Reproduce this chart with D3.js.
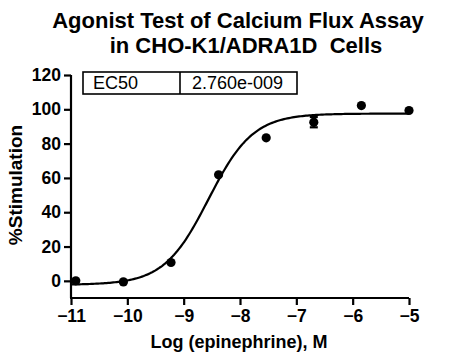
<!DOCTYPE html>
<html>
<head>
<meta charset="utf-8">
<script src="https://cdn.jsdelivr.net/npm/d3@7"></script>
<style>
  html, body { margin: 0; padding: 0; background: #fff; }
  svg { display: block; font-family: Arial, "Liberation Sans", sans-serif; }
</style>
</head>
<body>
<svg id="chart" width="451" height="359"></svg>
<script>
// ---- Data ----
const logConc = [-10.915, -10.07, -9.225, -8.38, -7.535, -6.69, -5.845, -5.0];
const stimulation = [0.0, -0.6, 10.7, 61.8, 83.4, 92.5, 102.2, 99.3];
const errorSD = [0, 0, 0, 0, 0, 3, 0, 0];
// 4-parameter logistic fit: bottom, top, logEC50, hill slope
const fitBottom = [-2.3];
const fitTop = [97.5];
const fitLogEC50 = [Math.log10(2.760e-9)];
const fitHill = [1.1];
const xTicks = [-11, -10, -9, -8, -7, -6, -5];
const yTicks = [0, 20, 40, 60, 80, 100, 120];
const titleLines = ["Agonist Test of Calcium Flux Assay", "in CHO-K1/ADRA1D\u00a0 Cells"];
const tableCells = ["EC50", "2.760e-009"];

// ---- Layout ----
const svg = d3.select("#chart");
const x = d3.scaleLinear().domain([-11, -5]).range([71, 409]);
const y = d3.scaleLinear().domain([-10, 120]).range([298, 75]);

// Title
svg.append("text").attr("x", 238).attr("y", 28).attr("text-anchor", "middle")
  .attr("font-size", 22).attr("font-weight", "bold").text(titleLines[0]);
svg.append("text").attr("x", 246).attr("y", 53).attr("text-anchor", "middle")
  .attr("font-size", 22).attr("font-weight", "bold").text(titleLines[1]);

// Y axis
const yAxis = d3.axisLeft(y).tickValues(yTicks).tickSize(7).tickPadding(3).tickFormat(d3.format("d"));
const gy = svg.append("g").attr("transform", "translate(71,0)").call(yAxis);
gy.select(".domain").attr("stroke", "#000").attr("stroke-width", 2.2).attr("d", "M0,75V298");
gy.selectAll(".tick line").attr("stroke", "#000").attr("stroke-width", 2.2);
gy.selectAll(".tick text").attr("font-size", 17.5).attr("font-weight", "bold").attr("fill", "#000")
  .attr("font-family", "Arial, 'Liberation Sans', sans-serif");

// X axis
const xAxis = d3.axisBottom(x).tickValues(xTicks).tickSize(7).tickPadding(5).tickFormat(d3.format("d"));
const gx = svg.append("g").attr("transform", "translate(0,298)").call(xAxis);
gx.select(".domain").attr("stroke", "#000").attr("stroke-width", 2.2).attr("d", "M70,0H409");
gx.selectAll(".tick line").attr("stroke", "#000").attr("stroke-width", 2.2);
gx.selectAll(".tick text").attr("font-size", 17.5).attr("font-weight", "bold").attr("fill", "#000")
  .attr("font-family", "Arial, 'Liberation Sans', sans-serif");

// Axis titles
svg.append("text").attr("x", 239).attr("y", 348).attr("text-anchor", "middle")
  .attr("font-size", 18).attr("font-weight", "bold").text("Log (epinephrine), M");
svg.append("text").attr("transform", "translate(22,185) rotate(-90)").attr("text-anchor", "middle")
  .attr("font-size", 19).attr("font-weight", "bold").text("%Stimulation");

// Fitted curve
const curveX = d3.range(0, 201).map(i => -11 + i * 6 / 200);
const fitFn = lx => fitBottom[0] + (fitTop[0] - fitBottom[0]) / (1 + Math.pow(10, (fitLogEC50[0] - lx) * fitHill[0]));
svg.append("path")
  .datum(curveX)
  .attr("fill", "none").attr("stroke", "#000").attr("stroke-width", 2.2)
  .attr("d", d3.line().x(d => x(d)).y(d => y(fitFn(d))));

// Error bars
const pts = logConc.map((c, i) => ({c, v: stimulation[i], e: errorSD[i]}));
const eb = svg.append("g");
pts.filter(p => p.e > 0).forEach(p => {
  eb.append("line").attr("x1", x(p.c)).attr("x2", x(p.c)).attr("y1", y(p.v + p.e)).attr("y2", y(p.v - p.e))
    .attr("stroke", "#000").attr("stroke-width", 2.2);
  [p.v + p.e, p.v - p.e].forEach(v => eb.append("line")
    .attr("x1", x(p.c) - 4).attr("x2", x(p.c) + 4).attr("y1", y(v)).attr("y2", y(v))
    .attr("stroke", "#000").attr("stroke-width", 2.2));
});

// Points
svg.append("g").selectAll("circle").data(pts).join("circle")
  .attr("cx", d => x(d.c)).attr("cy", d => y(d.v)).attr("r", 4.6).attr("fill", "#000");

// EC50 table
const tb = svg.append("g");
tb.append("rect").attr("x", 83).attr("y", 72).attr("width", 214).attr("height", 22)
  .attr("fill", "#fff").attr("stroke", "#000").attr("stroke-width", 1.6);
tb.append("line").attr("x1", 180).attr("x2", 180).attr("y1", 72).attr("y2", 94)
  .attr("stroke", "#000").attr("stroke-width", 1.6);
tb.append("text").attr("x", 93).attr("y", 89).attr("font-size", 18).text(tableCells[0]);
tb.append("text").attr("x", 192).attr("y", 89).attr("font-size", 18).text(tableCells[1]);
</script>
</body>
</html>
